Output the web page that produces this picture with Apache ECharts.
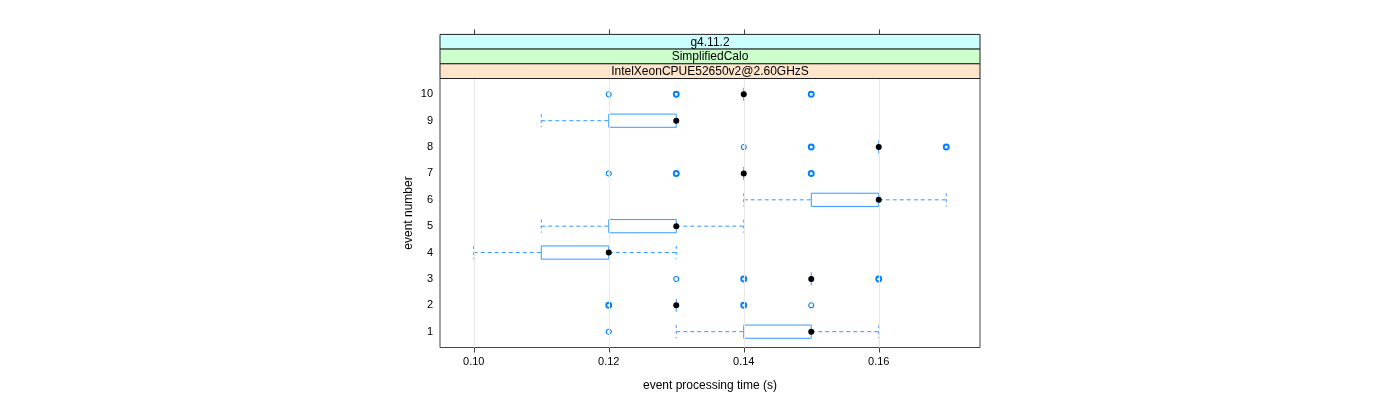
<!DOCTYPE html>
<html>
<head>
<meta charset="utf-8">
<script src="https://cdn.jsdelivr.net/npm/echarts@6/dist/echarts.min.js"></script>
<style>html,body{margin:0;padding:0;background:#fff;}#chart{width:1400px;height:400px;}</style>
</head>
<body>
<div id="chart"></div>
<script>
// ---- data ----
const events = [1, 2, 3, 4, 5, 6, 7, 8, 9, 10];
const boxLower     = [0.14, 0.13, 0.15, 0.11, 0.12, 0.15, 0.14, 0.16, 0.12, 0.14];
const boxUpper     = [0.15, 0.13, 0.15, 0.12, 0.13, 0.16, 0.14, 0.16, 0.13, 0.14];
const medians      = [0.15, 0.13, 0.15, 0.12, 0.13, 0.16, 0.14, 0.16, 0.13, 0.14];
const whiskerLower = [0.13, 0.13, 0.15, 0.10, 0.11, 0.14, 0.14, 0.16, 0.11, 0.14];
const whiskerUpper = [0.16, 0.13, 0.15, 0.13, 0.14, 0.17, 0.14, 0.16, 0.13, 0.14];
const outlierEvent = [1, 2, 2, 2, 3, 3, 3, 7, 7, 7, 8, 8, 8, 10, 10, 10];
const outlierTime  = [0.12, 0.12, 0.14, 0.15, 0.13, 0.14, 0.16, 0.12, 0.13, 0.15, 0.14, 0.15, 0.17, 0.12, 0.13, 0.15];
const outlierCount = [1, 2, 2, 1, 1, 2, 2, 1, 2, 2, 1, 2, 2, 1, 2, 2];
const xTicks = [0.10, 0.12, 0.14, 0.16];
const yTicks = [1, 2, 3, 4, 5, 6, 7, 8, 9, 10];
const stripLabels = ['g4.11.2', 'SimplifiedCalo', 'IntelXeonCPUE52650v2@2.60GHzS'];
const xTitle = 'event processing time (s)';
const yTitle = 'event number';

// ---- layout / style ----
const FONT = 'Liberation Sans, Arial, sans-serif';
const GL = 440, GR = 980, GT = 78.5, GB = 347.5;
const STRIP_H = 14.7;
const stripColors = ['#ccffff', '#ccffcc', '#ffe5cc'];
const boxColor = '#3399ff';
const ptColor = '#0080ff';

const boxData = events.map((e, i) => [e, boxLower[i], boxUpper[i], medians[i], whiskerLower[i], whiskerUpper[i]]);
const outlierData = outlierEvent.map((e, i) => ({ value: [outlierTime[i], e], count: outlierCount[i],
  itemStyle: { borderWidth: outlierCount[i] > 1 ? 1.9 : 1.1 } }));
const medianData = events.map((e, i) => [medians[i], e]);

function renderBox(params, api) {
  const ev = api.value(0), q1 = api.value(1), q3 = api.value(2), wlo = api.value(4), whi = api.value(5);
  const pQ1 = api.coord([q1, ev]), pQ3 = api.coord([q3, ev]);
  const pLo = api.coord([wlo, ev]), pHi = api.coord([whi, ev]);
  const h = api.size([0, 0.5])[1];
  const y = pQ1[1];
  const dash = { stroke: boxColor, lineWidth: 1, lineDash: [4, 3], fill: null };
  const capDash = { stroke: boxColor, lineWidth: 1, lineDash: [3, 3], fill: null };
  const solid = { stroke: boxColor, lineWidth: 1, fill: null };
  const ch = [];
  if (wlo < q1) {
    ch.push({ type: 'line', shape: { x1: pLo[0], y1: y, x2: pQ1[0], y2: y }, style: dash });
    ch.push({ type: 'line', shape: { x1: pLo[0], y1: y - h / 2, x2: pLo[0], y2: y + h / 2 }, style: capDash });
  }
  if (whi > q3) {
    ch.push({ type: 'line', shape: { x1: pQ3[0], y1: y, x2: pHi[0], y2: y }, style: dash });
    ch.push({ type: 'line', shape: { x1: pHi[0], y1: y - h / 2, x2: pHi[0], y2: y + h / 2 }, style: capDash });
  }
  if (q3 > q1) {
    ch.push({ type: 'rect', shape: { x: pQ1[0], y: y - h / 2, width: pQ3[0] - pQ1[0], height: h }, style: solid });
  } else {
    ch.push({ type: 'line', shape: { x1: pQ1[0], y1: y - h / 2, x2: pQ1[0], y2: y + h / 2 }, style: solid });
  }
  return { type: 'group', children: ch };
}

const graphics = [];
stripLabels.forEach((t, i) => {
  const y0 = GT - STRIP_H * (stripLabels.length - i);
  graphics.push({ type: 'rect', shape: { x: GL, y: y0, width: GR - GL, height: STRIP_H },
    style: { fill: stripColors[i], stroke: '#222', lineWidth: 1 }, z: 10 });
  graphics.push({ type: 'text', x: (GL + GR) / 2, y: y0 + STRIP_H / 2 + 0.5,
    style: { text: t, fill: '#000', font: '12px ' + FONT, textAlign: 'center', textVerticalAlign: 'middle' }, z: 11 });
});

const chart = echarts.init(document.getElementById('chart'), null, { renderer: 'canvas' });
chart.setOption({
  animation: false,
  backgroundColor: '#fff',
  grid: { left: GL, right: 1400 - GR, top: GT, bottom: 400 - GB, show: true, borderColor: '#444', borderWidth: 1, backgroundColor: 'transparent' },
  xAxis: [{
    type: 'value', min: 0.095, max: 0.175, position: 'bottom',
    axisLine: { show: false }, splitLine: { show: false },
    axisTick: { show: true, customValues: xTicks, length: 5, lineStyle: { color: '#444' } },
    axisLabel: { customValues: xTicks, formatter: v => v.toFixed(2), color: '#000', fontSize: 11, fontFamily: FONT, margin: 9 },
    name: xTitle, nameLocation: 'middle', nameGap: 32, nameTextStyle: { color: '#000', fontSize: 12, fontFamily: FONT }
  }, {
    type: 'value', min: 0.095, max: 0.175, position: 'top', offset: STRIP_H * 3,
    axisLine: { show: false }, splitLine: { show: false },
    axisTick: { show: true, customValues: xTicks, length: 5, lineStyle: { color: '#444' } },
    axisLabel: { show: false }
  }],
  yAxis: {
    type: 'value', min: 0.4, max: 10.6,
    axisLine: { show: false }, splitLine: { show: false }, axisTick: { show: false },
    axisLabel: { customValues: yTicks, color: '#000', fontSize: 11, fontFamily: FONT, margin: 7 },
    name: yTitle, nameLocation: 'middle', nameGap: 25, nameRotate: 90, nameTextStyle: { color: '#000', fontSize: 12, fontFamily: FONT }
  },
  graphic: graphics,
  series: [{
    type: 'scatter', data: [], silent: true,
    markLine: { silent: true, symbol: 'none', label: { show: false },
      lineStyle: { color: '#e8e8e8', width: 1, type: 'solid', opacity: 1 },
      data: xTicks.map(v => ({ xAxis: v })) }, z: 1
  }, {
    type: 'custom', renderItem: renderBox, data: boxData, encode: { x: [1, 2, 4, 5], y: 0 }, z: 3, silent: true
  }, {
    type: 'scatter', data: outlierData, symbol: 'circle', symbolSize: 5,
    itemStyle: { color: 'transparent', borderColor: ptColor, borderWidth: 1.1, opacity: 1 }, z: 4, silent: true
  }, {
    type: 'scatter', data: medianData, symbol: 'circle', symbolSize: 6,
    itemStyle: { color: '#000', opacity: 1 }, z: 5, silent: true
  }]
});
</script>
</body>
</html>
